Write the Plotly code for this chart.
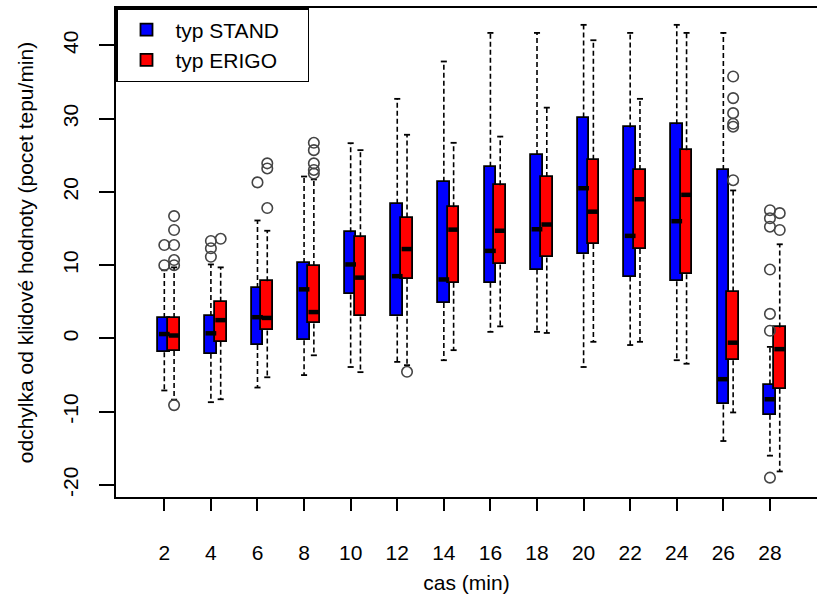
import plotly.graph_objects as go

# ---------------- data ----------------
time_labels = ["2", "4", "6", "8", "10", "12", "14", "16", "18", "20", "22", "24", "26", "28"]
positions = list(range(1, 15))

stand_lo = [-7.1, -8.7, -6.7, -5.0, -3.9, -3.2, -2.97, 0.9, 0.9, -3.9, -0.9, -2.97, -14.0, -16.0]
stand_q1 = [-1.9, -2.1, -0.9, -0.25, 6.0, 3.0, 4.85, 7.6, 9.4, 11.5, 8.45, 7.8, -9.0, -10.4]
stand_med = [0.6, 0.7, 2.9, 6.7, 10.1, 8.5, 8.05, 11.95, 14.9, 20.5, 14.0, 16.0, -5.56, -8.3]
stand_q3 = [2.8, 3.05, 6.9, 10.3, 14.5, 18.4, 21.4, 23.45, 25.05, 30.15, 28.8, 29.25, 23.0, -6.3]
stand_hi = [9.3, 10.1, 16.1, 22.1, 26.65, 32.7, 37.8, 41.7, 41.7, 42.8, 41.7, 42.8, 41.7, -1.15]
stand_out = [[12.75, 10.0], [13.3, 12.3, 11.15], [21.3], [], [], [], [], [], [], [], [], [], [],
             [17.5, 16.4, 15.25, 9.4, 3.35, 1.05, -19.0]]

erigo_lo = [-8.35, -8.3, -5.3, -2.3, -4.6, -3.65, -1.6, 1.65, 0.75, -0.46, -0.46, -3.45, -10.1, -18.15]
erigo_q1 = [-1.7, -0.45, 1.1, 2.05, 3.0, 8.15, 7.6, 10.1, 11.05, 12.9, 12.2, 8.75, -2.97, -6.85]
erigo_med = [0.4, 2.5, 2.8, 3.6, 8.3, 12.2, 14.85, 14.7, 15.55, 17.3, 19.0, 19.6, -0.58, -1.46]
erigo_q3 = [2.8, 5.0, 7.8, 9.9, 13.8, 16.5, 17.9, 20.9, 22.05, 24.4, 23.0, 25.7, 6.4, 1.5]
erigo_hi = [9.7, 9.7, 14.7, 21.7, 25.7, 27.8, 26.7, 27.55, 31.5, 40.7, 32.7, 41.7, 20.2, 12.85]
erigo_out = [[16.7, 14.8, 12.75, 10.7, 10.0, -9.1], [13.6], [23.9, 23.2, 17.8],
             [26.7, 25.7, 23.9, 23.0, 22.5], [], [-4.55], [], [], [], [], [], [],
             [35.75, 32.8, 30.75, 29.3, 28.9, 21.6], [17.1, 14.8]]

y_ticks = [-20, -10, 0, 10, 20, 30, 40]

# ---------------- style ----------------
FONT = "Liberation Sans, Arial, Helvetica, sans-serif"
FS = 21
BOX_W = 0.25
OFFSET = 0.21
CAP_HW = 0.065
PAD = "\u00a0" * 4

def series(fig, name, color, shift, lo, q1, med, q3, hi, out):
    xc = [p + shift for p in positions]
    # box
    fig.add_trace(go.Bar(
        x=xc, base=q1, y=[b - a for a, b in zip(q1, q3)], width=BOX_W,
        marker=dict(color=color, line=dict(color="black", width=1.8)),
        name=name + PAD, showlegend=True, hoverinfo="skip"))
    # whiskers (dashed)
    wx, wy = [], []
    for x, a, b, l, h in zip(xc, q1, q3, lo, hi):
        wx += [x, x, None, x, x, None]
        wy += [b, h, None, a, l, None]
    fig.add_trace(go.Scatter(x=wx, y=wy, mode="lines",
                             line=dict(color="black", width=1.6, dash="5px,3px"),
                             showlegend=False, hoverinfo="skip"))
    # staples
    sx, sy = [], []
    for x, l, h in zip(xc, lo, hi):
        sx += [x - CAP_HW, x + CAP_HW, None, x - CAP_HW, x + CAP_HW, None]
        sy += [h, h, None, l, l, None]
    fig.add_trace(go.Scatter(x=sx, y=sy, mode="lines",
                             line=dict(color="black", width=1.8),
                             showlegend=False, hoverinfo="skip"))
    # medians
    mx, my = [], []
    for x, m in zip(xc, med):
        mx += [x - BOX_W / 2 + 0.01, x + BOX_W / 2 - 0.01, None]
        my += [m, m, None]
    fig.add_trace(go.Scatter(x=mx, y=my, mode="lines",
                             line=dict(color="black", width=4.5),
                             showlegend=False, hoverinfo="skip"))
    # outliers
    ox, oy = [], []
    for x, vals in zip(xc, out):
        for v in vals:
            ox.append(x)
            oy.append(v)
    fig.add_trace(go.Scatter(x=ox, y=oy, mode="markers",
                             marker=dict(symbol="circle-open", size=10.5,
                                         line=dict(color="#444", width=1.6), color="#444"),
                             showlegend=False, hoverinfo="skip"))

fig = go.Figure()
series(fig, "typ STAND", "#0000FF", 0.0, stand_lo, stand_q1, stand_med, stand_q3, stand_hi, stand_out)
series(fig, "typ ERIGO", "#FF0000", OFFSET, erigo_lo, erigo_q1, erigo_med, erigo_q3, erigo_hi, erigo_out)

fig.update_layout(
    width=817, height=594,
    margin=dict(l=116, r=0, t=8, b=97),
    paper_bgcolor="white", plot_bgcolor="white",
    barmode="overlay", bargap=0,
    font=dict(family=FONT, size=FS, color="black"),
    showlegend=True,
    legend=dict(x=0, y=1, xanchor="left", yanchor="top",
                bgcolor="white", bordercolor="black", borderwidth=1.5,
                font=dict(size=FS, family=FONT, color="black"),
                tracegroupgap=0, itemwidth=48, traceorder="normal"),
    xaxis=dict(range=[-0.037, 15.01], tickvals=positions, ticktext=time_labels,
               ticks="outside", ticklen=12, tickwidth=1.5, tickcolor="black",
               showline=True, linecolor="black", linewidth=1.5, mirror=True,
               showgrid=False, zeroline=False, ticklabelstandoff=24,
               tickfont=dict(size=FS, family=FONT),
               title=dict(text="cas (min)", font=dict(size=FS, family=FONT), standoff=12)),
    yaxis=dict(range=[-21.64, 45.1], tickvals=y_ticks, ticktext=[str(v) for v in y_ticks],
               tickangle=-90,
               ticks="outside", ticklen=15, tickwidth=1.5, tickcolor="black",
               showline=True, linecolor="black", linewidth=1.5, mirror=False,
               showgrid=False, zeroline=False, ticklabelstandoff=13,
               tickfont=dict(size=FS, family=FONT),
               title=dict(text="odchylka od klidové hodnoty (pocet tepu/min)",
                          font=dict(size=FS, family=FONT), standoff=19)),
)

fig.write_html("out.html")
